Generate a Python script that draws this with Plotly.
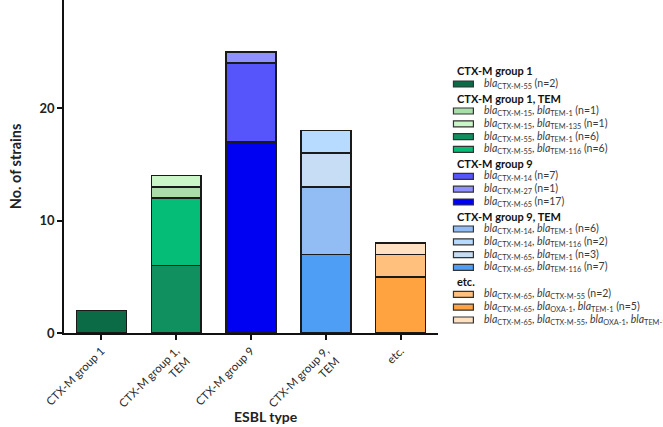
import plotly.graph_objects as go

# ---------------- data ----------------
categories = ["CTX-M group 1", "CTX-M group 1,<br>TEM", "CTX-M group 9",
              "CTX-M group 9,<br>TEM", "etc."]
group_titles = ["CTX-M group 1", "CTX-M group 1, TEM", "CTX-M group 9",
                "CTX-M group 9, TEM", "etc."]

# genotypes per group, in legend order
group1_genes = [["CTX-M-55"]]
group1_counts = [2]
group1tem_genes = [["CTX-M-15", "TEM-1"], ["CTX-M-15", "TEM-135"],
                   ["CTX-M-55", "TEM-1"], ["CTX-M-55", "TEM-116"]]
group1tem_counts = [1, 1, 6, 6]
group9_genes = [["CTX-M-14"], ["CTX-M-27"], ["CTX-M-65"]]
group9_counts = [7, 1, 17]
group9tem_genes = [["CTX-M-14", "TEM-1"], ["CTX-M-14", "TEM-116"],
                   ["CTX-M-65", "TEM-1"], ["CTX-M-65", "TEM-116"]]
group9tem_counts = [6, 2, 3, 7]
etc_genes = [["CTX-M-65", "CTX-M-55"], ["CTX-M-65", "OXA-1", "TEM-1"],
             ["CTX-M-65", "CTX-M-55", "OXA-1", "TEM-1"]]
etc_counts = [2, 5, 1]

# order of segments in each stacked bar, bottom to top (indices into legend order)
stack_order = [[0], [2, 3, 0, 1], [2, 0, 1], [3, 0, 2, 1], [1, 0, 2]]

y_ticks = [0, 10, 20, 30]

# ---------------- styles ----------------
group1_colors = ["#0b6b47"]
group1tem_colors = ["#a9deab", "#cbf6c8", "#10905f", "#06bd78"]
group9_colors = ["#5555fb", "#9090ff", "#0000f2"]
group9tem_colors = ["#92bdf4", "#b7dbff", "#c7dcf5", "#4f9ef6"]
etc_colors = ["#ffc07e", "#ffa23f", "#ffe1c2"]

all_genes = [group1_genes, group1tem_genes, group9_genes, group9tem_genes, etc_genes]
all_counts = [group1_counts, group1tem_counts, group9_counts, group9tem_counts, etc_counts]
all_colors = [group1_colors, group1tem_colors, group9_colors, group9tem_colors, etc_colors]

FONT = "Lato"
W, H = 663, 427
L, R, T, B = 63.5, 224.5, 0, 94
PW = W - L - R
PH = H - T - B


def px_to_paper(px, py):
    return (px - L) / PW, (H - B - py) / PH


def gene_label(genes, n):
    parts = ["<i>bla</i><sub>%s</sub>" % g for g in genes]
    return ", ".join(parts) + " (n=%d)" % n


fig = go.Figure()
for gi, cat in enumerate(categories):
    for si in stack_order[gi]:
        fig.add_trace(go.Bar(
            x=[cat], y=[all_counts[gi][si]],
            marker=dict(color=all_colors[gi][si],
                        line=dict(color="#1a1a1a", width=1.5)),
            showlegend=False,
            name=gene_label(all_genes[gi][si], all_counts[gi][si]),
        ))

# ---------------- manual legend ----------------
annotations = []
shapes = []
y = 71.0
for gi, title in enumerate(group_titles):
    if gi > 0:
        y += 14.0
    xp, yp = px_to_paper(456, y)
    annotations.append(dict(
        xref="paper", yref="paper", x=xp, y=yp, xanchor="left", yanchor="middle",
        text="<b>%s</b>" % title, showarrow=False,
        font=dict(family=FONT, size=11, color="#111111")))
    for si, genes in enumerate(all_genes[gi]):
        y += 13.0 if si == 0 else 12.8
        x0, y0 = px_to_paper(454, y + 3)
        x1, y1 = px_to_paper(474, y - 3)
        shapes.append(dict(
            type="rect", xref="paper", yref="paper", x0=x0, y0=y0, x1=x1, y1=y1,
            fillcolor=all_colors[gi][si], line=dict(color="#333333", width=1.2)))
        xt, yt = px_to_paper(483, y)
        annotations.append(dict(
            xref="paper", yref="paper", x=xt, y=yt, xanchor="left", yanchor="middle",
            text=gene_label(genes, all_counts[gi][si]), showarrow=False,
            font=dict(family=FONT, size=10.5, color="#3a3a3a")))

# x axis title
xp, yp = px_to_paper(266, 416)
annotations.append(dict(
    xref="paper", yref="paper", x=xp, y=yp, xanchor="center", yanchor="middle",
    text="<b>ESBL type</b>", showarrow=False,
    font=dict(family=FONT, size=14, color="#222222")))

# top tick label, partially outside the visible area
annotations.append(dict(
    xref="paper", yref="y", x=-8 / PW, y=y_ticks[-1], xanchor="right", yanchor="middle",
    text="<b>%d</b>" % y_ticks[-1], showarrow=False,
    font=dict(family=FONT, size=13, color="#222222")))

fig.update_layout(
    width=W, height=H,
    margin=dict(l=L, r=R, t=T, b=B, pad=0),
    paper_bgcolor="white", plot_bgcolor="white",
    barmode="stack", bargap=0.333,
    showlegend=False,
    annotations=annotations, shapes=shapes,
    font=dict(family=FONT),
)
fig.update_xaxes(
    type="category", range=[-0.5, 4.5],
    showline=True, linecolor="#111111", linewidth=1.8,
    ticks="outside", ticklen=5, tickwidth=1.5, tickcolor="#111111",
    tickangle=-45, tickfont=dict(family=FONT, size=11.3, color="#2a2a2a"),
    showgrid=False, zeroline=False,
)
fig.update_yaxes(
    range=[0, PH / 11.25],
    tickvals=y_ticks, ticktext=[str(v) for v in y_ticks],
    showline=True, linecolor="#111111", linewidth=1.8,
    ticks="outside", ticklen=5, tickwidth=1.5, tickcolor="#111111",
    tickfont=dict(family=FONT, size=13, color="#222222", weight="bold"),
    title=dict(text="No. of strains", standoff=14,
               font=dict(family=FONT, size=14.5, color="#222222", weight="bold")),
    showgrid=False, zeroline=False,
)

fig.write_html("out.html")
